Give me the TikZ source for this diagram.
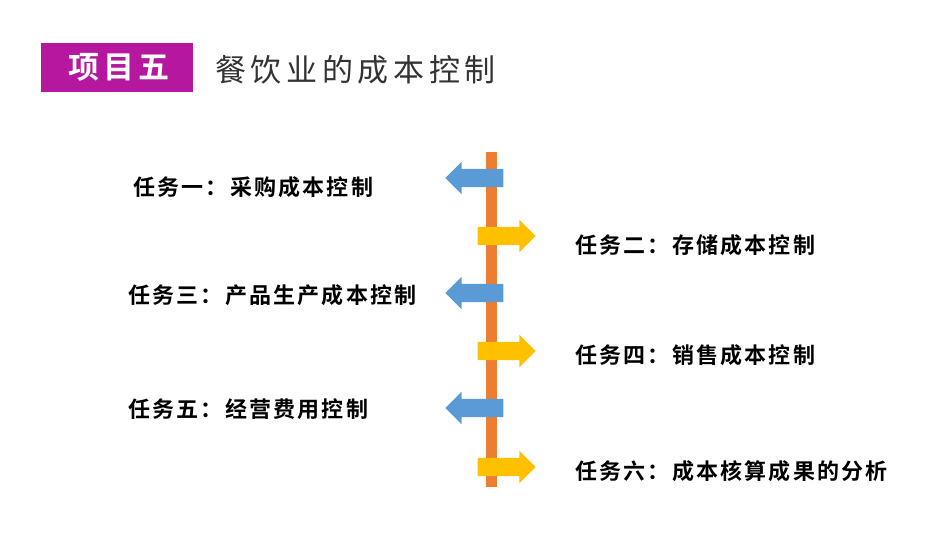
\documentclass[tikz,border=0pt]{standalone}
\usepackage{fontspec}
\newfontfamily\cjk[LetterSpace=15]{Noto Sans CJK SC}
\newfontfamily\cjkb[LetterSpace=10]{Noto Sans CJK SC Bold}
\newfontfamily\cjkhead[LetterSpace=12]{Noto Sans CJK SC Bold}
\usetikzlibrary{shapes.arrows}
\definecolor{barorange}{HTML}{ED7D31}
\definecolor{arrowblue}{HTML}{5B9BD5}
\definecolor{arrowyellow}{HTML}{FFC000}
\definecolor{titlemag}{HTML}{B5179E}
\tikzset{
  task/.style={font=\cjkb\fontsize{22}{26}\selectfont, inner sep=0pt, text=black},
  arr/.style={single arrow, draw=none, inner xsep=0pt, inner ysep=9pt,
    minimum height=58pt, single arrow head extend=7pt, single arrow head indent=0pt},
  leftarr/.style={arr, fill=arrowblue, shape border rotate=180},
  rightarr/.style={arr, fill=arrowyellow}
}
\begin{document}
\begin{tikzpicture}[x=1pt,y=-1pt]
  \useasboundingbox (0,0) rectangle (950,535);
  % title
  \node[fill=titlemag, minimum width=152pt, minimum height=49pt, inner sep=0pt,
    font=\cjkhead\fontsize{31}{34}\selectfont, text=white] (head) at (117,67.5) {\hspace{4pt}项目五};
  \node[anchor=west, inner sep=0pt, font=\cjk\fontsize{31}{36}\selectfont,
    text=black!80] (title) at (215,70) {餐饮业的成本控制};
  % timeline bar
  \coordinate (top) at (491.5,152);
  \coordinate (bot) at (491.5,487);
  \draw[barorange, line width=11pt] (top) -- (bot);
  % arrows
  \node[leftarr] (a1) at (479,178) {};
  \node[rightarr] (a2) at (502,236) {};
  \node[leftarr] (a3) at (479,293) {};
  \node[rightarr] (a4) at (502,351) {};
  \node[leftarr] (a5) at (479,408) {};
  \node[rightarr] (a6) at (502,467) {};
  % labels
  \node[task, anchor=west] (t1) at (133,187) {任务一：采购成本控制};
  \node[task, anchor=west] (t2) at (575,245) {任务二：存储成本控制};
  \node[task, anchor=west] (t3) at (128,295) {任务三：产品生产成本控制};
  \node[task, anchor=west] (t4) at (575,355) {任务四：销售成本控制};
  \node[task, anchor=west] (t5) at (128,409) {任务五：经营费用控制};
  \node[task, anchor=west] (t6) at (575,471) {任务六：成本核算成果的分析};
\end{tikzpicture}
\end{document}
